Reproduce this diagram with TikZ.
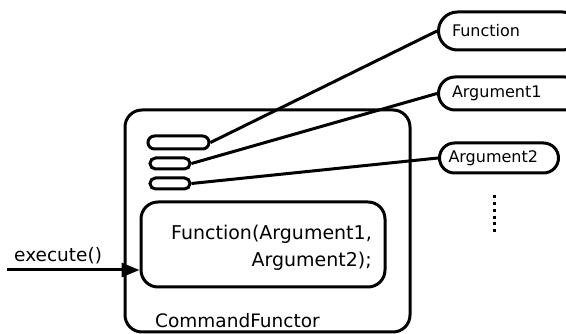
\documentclass[tikz,border=0pt]{standalone}
\usepackage{fontspec}
\setmainfont{DejaVu Sans}
\usetikzlibrary{arrows.meta}
\begin{document}
\begin{tikzpicture}[x=1pt,y=-1pt,
  box/.style={draw, line width=3pt, rounded corners=17pt, inner sep=0pt},
  pill/.style={draw, line width=3pt, inner sep=0pt, font=\fontsize{16}{18}\selectfont},
  mini/.style={draw, line width=3pt, inner sep=0pt},
  lbl/.style={inner sep=0pt, font=\fontsize{18.5}{27}\selectfont},
  conn/.style={line width=3pt}]
\useasboundingbox (0,0) rectangle (566,334);
% outer box
\node[box, minimum width=285pt, minimum height=222pt] (outer) at (267.5,221) {};
% mini pills
\node[mini, minimum width=61pt, minimum height=13pt, rounded corners=6.5pt] (p1) at (178.5,142.5) {};
\node[mini, minimum width=40pt, minimum height=11pt, rounded corners=5.5pt] (p2) at (170,163.5) {};
\node[mini, minimum width=40pt, minimum height=11pt, rounded corners=5.5pt] (p3) at (170,183.5) {};
% inner box
\node[box, minimum width=244pt, minimum height=85pt] (inner) at (263,244.5) {};
\node[lbl, font=\fontsize{19}{27}\selectfont, anchor=base east, align=right] (code) at (372,267) {Function(Argument1,\\Argument2);};
\node[lbl, anchor=base west] (name) at (155,327) {CommandFunctor};
% right pills
\node[pill, anchor=west, minimum width=143pt, minimum height=38pt, rounded corners=19pt, text width=116pt, align=left, inner xsep=13.5pt] (fn) at (437,31) {Function};
\node[pill, anchor=west, minimum width=143pt, minimum height=33pt, rounded corners=16.5pt, text width=116pt, align=left, inner xsep=13.5pt] (a1) at (437,93.5) {Argument1};
\node[pill, anchor=west, minimum width=119pt, minimum height=30pt, rounded corners=15pt, text width=101pt, align=left, inner xsep=9pt] (a2) at (438,158) {Argument2};
% connectors
\draw[conn] (p1.east) -- (fn.west);
\draw[conn] (p2.east) -- (a1.west);
\draw[conn] (p3.east) -- (a2.west);
% dots
\coordinate (d1) at (494,195.5);
\coordinate (d2) at (494,232);
\draw[line width=3pt, dash pattern=on 3pt off 3.67pt] (d1) -- (d2);
% execute
\node[lbl, anchor=base west] (exl) at (14,262) {execute()};
\coordinate (ex) at (7,270);
\draw[conn, -{Triangle[length=18pt, width=14pt]}] (ex) -- (ex -| inner.west);
\end{tikzpicture}
\end{document}
